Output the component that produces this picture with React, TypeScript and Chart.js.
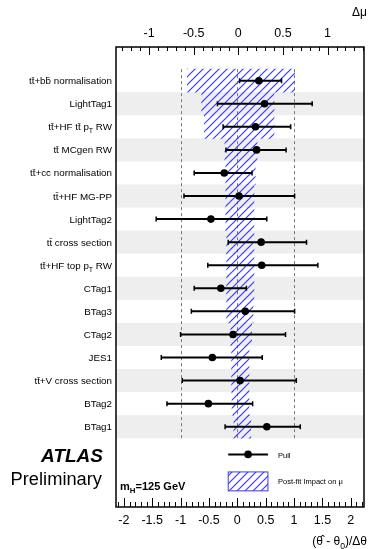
import { useEffect, useRef } from "react";
import { Chart, registerables } from "chart.js";
Chart.register(...registerables);

const parameters = [
  "tt\u0304+bb\u0304 normalisation",
  "LightTag1",
  "tt\u0304+HF tt\u0304 p_T RW",
  "tt\u0304 MCgen RW",
  "tt\u0304+cc\u0304 normalisation",
  "tt\u0304+HF MG-PP",
  "LightTag2",
  "tt\u0304 cross section",
  "tt\u0304+HF top p_T RW",
  "CTag1",
  "BTag3",
  "CTag2",
  "JES1",
  "tt\u0304+V cross section",
  "BTag2",
  "BTag1",
];
const pulls = [0.38, 0.48, 0.32, 0.34, -0.23, 0.03, -0.465, 0.42, 0.43, -0.29, 0.14, -0.075, -0.44, 0.05, -0.51, 0.52];
const pullLow = [0.04, -0.35, -0.25, -0.2, -0.76, -0.94, -1.43, -0.16, -0.52, -0.76, -0.81, -1.0, -1.34, -0.97, -1.24, -0.215];
const pullHigh = [0.78, 1.32, 0.94, 0.86, 0.26, 1.01, 0.52, 1.22, 1.42, 0.16, 1.01, 0.85, 0.44, 1.04, 0.27, 1.11];
const impactDown = [-0.57, -0.41, -0.38, -0.15, -0.14, -0.14, -0.14, -0.13, -0.13, -0.13, -0.13, -0.085, -0.075, -0.075, -0.07, -0.05];
const impactUp = [0.63, 0.4, 0.4, 0.21, 0.19, 0.175, 0.175, 0.175, 0.175, 0.175, 0.165, 0.15, 0.12, 0.12, 0.12, 0.14];

const bottomTicks = [-2, -1.5, -1, -0.5, 0, 0.5, 1, 1.5, 2];
const topTicks = [-1, -0.5, 0, 0.5, 1];
const bottomTitle = "(\u03B8\u0302 - \u03B8_0)/\u0394\u03B8";
const topTitle = "\u0394\u03BC";
const legendPull = "Pull";
const legendImpact = "Post-fit Impact on \u03BC";
const atlasText = "ATLAS";
const prelimText = "Preliminary";
const massText = "m_H=125 GeV";

const FAM = "'Liberation Sans', Arial, Helvetica, sans-serif";
const BLUE = "#3b3bf0";

type Seg = { t: string; sub: boolean };
function segs(text: string): Seg[] {
  const out: Seg[] = [];
  const re = /_(\w)/g;
  let last = 0;
  let m: RegExpExecArray | null;
  while ((m = re.exec(text))) {
    if (m.index > last) out.push({ t: text.slice(last, m.index), sub: false });
    out.push({ t: m[1], sub: true });
    last = m.index + m[0].length;
  }
  if (last < text.length) out.push({ t: text.slice(last), sub: false });
  return out;
}
function drawRich(ctx: CanvasRenderingContext2D, text: string, x: number, y: number, size: number, style: string, align: "left" | "right") {
  const ss = segs(text);
  const f = (s: Seg) => `${style} ${s.sub ? size * 0.72 : size}px ${FAM}`;
  let total = 0;
  for (const s of ss) {
    ctx.font = f(s);
    total += ctx.measureText(s.t).width;
  }
  let cx = align === "right" ? x - total : x;
  ctx.textAlign = "left";
  ctx.textBaseline = "alphabetic";
  for (const s of ss) {
    ctx.font = f(s);
    ctx.fillText(s.t, cx, s.sub ? y + size * 0.3 : y);
    cx += ctx.measureText(s.t).width;
  }
}

function makePattern(): CanvasPattern | string {
  const c = document.createElement("canvas");
  c.width = 8;
  c.height = 8;
  const g = c.getContext("2d");
  if (!g) return BLUE;
  g.strokeStyle = BLUE;
  g.lineWidth = 1.2;
  g.beginPath();
  g.moveTo(0, 8);
  g.lineTo(8, 0);
  g.moveTo(-2, 2);
  g.lineTo(2, -2);
  g.moveTo(6, 10);
  g.lineTo(10, 6);
  g.stroke();
  return g.createPattern(c, "repeat") || BLUE;
}

export default function App() {
  const ref = useRef<HTMLCanvasElement | null>(null);
  useEffect(() => {
    if (!ref.current) return;
    const pattern = makePattern();
    const n = parameters.length;

    const bgPlugin = {
      id: "bg",
      beforeDatasetsDraw(chart: any) {
        const { ctx, chartArea } = chart;
        const y = chart.scales.y;
        const x = chart.scales.x;
        ctx.save();
        ctx.fillStyle = "#eeeeee";
        for (let i = 1; i < n; i += 2) {
          const y0 = y.getPixelForValue(i - 0.5);
          const y1 = y.getPixelForValue(i + 0.5);
          ctx.fillRect(chartArea.left, y0, chartArea.right - chartArea.left, y1 - y0);
        }
        ctx.strokeStyle = "#777777";
        ctx.lineWidth = 1;
        ctx.setLineDash([3, 3]);
        for (const v of [-1, 0, 1]) {
          const px = Math.round(x.getPixelForValue(v)) + 0.5;
          ctx.beginPath();
          ctx.moveTo(px, y.getPixelForValue(-0.5));
          ctx.lineTo(px, y.getPixelForValue(n - 0.5));
          ctx.stroke();
        }
        ctx.restore();
      },
      afterDatasetDraw(chart: any, args: any) {
        if (args.index !== 0) return;
        const { ctx } = chart;
        const x = chart.scales.x;
        const y = chart.scales.y;
        ctx.save();
        ctx.strokeStyle = "#000";
        for (let i = 0; i < n; i++) {
          const py = y.getPixelForValue(i);
          const a = x.getPixelForValue(pullLow[i]);
          const b = x.getPixelForValue(pullHigh[i]);
          ctx.lineWidth = 2;
          ctx.beginPath();
          ctx.moveTo(a, py);
          ctx.lineTo(b, py);
          ctx.stroke();
          ctx.lineWidth = 1.5;
          ctx.beginPath();
          ctx.moveTo(a, py - 2.5);
          ctx.lineTo(a, py + 2.5);
          ctx.moveTo(b, py - 2.5);
          ctx.lineTo(b, py + 2.5);
          ctx.stroke();
        }
        ctx.restore();
      },
      afterDraw(chart: any) {
        const { ctx, chartArea } = chart;
        const { left, right, top, bottom } = chartArea;
        const x = chart.scales.x;
        const x2 = chart.scales.x2;
        const y = chart.scales.y;
        ctx.save();
        ctx.fillStyle = "#000";
        ctx.strokeStyle = "#000";
        ctx.lineWidth = 1.5;
        ctx.strokeRect(left, top, right - left, bottom - top);
        ctx.lineWidth = 1;
        ctx.beginPath();
        for (let k = -25; k <= 25; k++) {
          const v = k / 10;
          if (v < x.min || v > x.max) continue;
          const px = Math.round(x.getPixelForValue(v)) + 0.5;
          const len = k % 5 === 0 ? 9 : 5;
          ctx.moveTo(px, bottom);
          ctx.lineTo(px, bottom - len);
        }
        for (let k = -15; k <= 15; k++) {
          const v = k / 10;
          if (v < x2.min || v > x2.max) continue;
          const px = Math.round(x2.getPixelForValue(v)) + 0.5;
          const len = k % 5 === 0 ? 8 : 4;
          ctx.moveTo(px, top);
          ctx.lineTo(px, top + len);
        }
        ctx.stroke();
        for (let i = 0; i < n; i++) {
          drawRich(ctx, parameters[i], left - 4, y.getPixelForValue(i) + 3.5, 9.8, "normal", "right");
        }
        drawRich(ctx, topTitle, 367, 16, 12, "normal", "right");
        drawRich(ctx, bottomTitle, 367, 545, 12, "normal", "right");
        drawRich(ctx, atlasText, 103, 462, 19, "italic bold", "right");
        drawRich(ctx, prelimText, 102, 485, 18.3, "normal", "right");
        drawRich(ctx, massText, 120, 490, 11, "bold", "left");
        const ly = y.getPixelForValue(16.2);
        const lx0 = x.getPixelForValue(-0.16);
        const lx1 = x.getPixelForValue(0.54);
        const lxm = (lx0 + lx1) / 2;
        ctx.strokeStyle = "#000";
        ctx.lineWidth = 2;
        ctx.beginPath();
        ctx.moveTo(lx0, ly);
        ctx.lineTo(lx1, ly);
        ctx.stroke();
        ctx.beginPath();
        ctx.arc(lxm, ly, 3.8, 0, Math.PI * 2);
        ctx.fill();
        const by0 = y.getPixelForValue(16.96);
        const by1 = y.getPixelForValue(17.78);
        ctx.fillStyle = pattern as any;
        ctx.fillRect(lx0, by0, lx1 - lx0, by1 - by0);
        ctx.strokeStyle = BLUE;
        ctx.lineWidth = 1;
        ctx.strokeRect(lx0, by0, lx1 - lx0, by1 - by0);
        ctx.fillStyle = "#000";
        drawRich(ctx, legendPull, 278, ly + 3.5, 7.5, "normal", "left");
        drawRich(ctx, legendImpact, 278, (by0 + by1) / 2 + 2.7, 7.5, "normal", "left");
        ctx.restore();
      },
    };

    const chart = new Chart(ref.current, {
      type: "scatter",
      data: {
        datasets: [
          {
            type: "bar",
            indexAxis: "y",
            xAxisID: "x2",
            yAxisID: "y",
            data: parameters.map((_, i) => ({ x: [impactDown[i], impactUp[i]], y: i })),
            backgroundColor: pattern as any,
            borderWidth: 0,
            grouped: false,
            barPercentage: 1,
            categoryPercentage: 1,
            order: 2,
          } as any,
          {
            type: "scatter",
            xAxisID: "x",
            yAxisID: "y",
            data: parameters.map((_, i) => ({ x: pulls[i], y: i })),
            pointRadius: 3.8,
            pointBackgroundColor: "#000",
            pointBorderWidth: 0,
            order: 1,
          } as any,
        ],
      },
      options: {
        responsive: false,
        animation: false,
        events: [],
        layout: { padding: { left: 116, right: 2, top: 0, bottom: 0 } },
        plugins: { legend: { display: false }, tooltip: { enabled: false } },
        scales: {
          x: {
            type: "linear",
            position: "bottom",
            min: -2.138,
            max: 2.233,
            bounds: "data",
            grid: { display: false, drawTicks: false },
            border: { display: false },
            ticks: { color: "#000", padding: 6, font: { size: 12.5, family: FAM }, callback: (v: any) => String(v) },
            afterBuildTicks: (s: any) => {
              s.ticks = bottomTicks.map((v) => ({ value: v }));
            },
            afterFit: (s: any) => {
              s.height = 42;
            },
          },
          x2: {
            type: "linear",
            axis: "x",
            position: "top",
            min: -1.37,
            max: 1.408,
            bounds: "data",
            grid: { display: false, drawTicks: false },
            border: { display: false },
            ticks: { color: "#000", padding: 6, font: { size: 12.5, family: FAM }, callback: (v: any) => String(v) },
            afterBuildTicks: (s: any) => {
              s.ticks = topTicks.map((v) => ({ value: v }));
            },
            afterFit: (s: any) => {
              s.height = 47;
            },
          },
          y: {
            type: "linear",
            reverse: true,
            offset: false,
            min: -1.46,
            max: 18.48,
            bounds: "data",
            display: false,
            afterBuildTicks: (s: any) => {
              s.ticks = parameters.map((_, i) => ({ value: i }));
            },
          },
        },
      } as any,
      plugins: [bgPlugin],
    });
    return () => chart.destroy();
  }, []);
  return (
    <div style={{ position: "fixed", left: 0, top: 0, width: 368, height: 549, background: "#fff" }}>
      <canvas ref={ref} width={368} height={549} style={{ display: "block" }} />
    </div>
  );
}
